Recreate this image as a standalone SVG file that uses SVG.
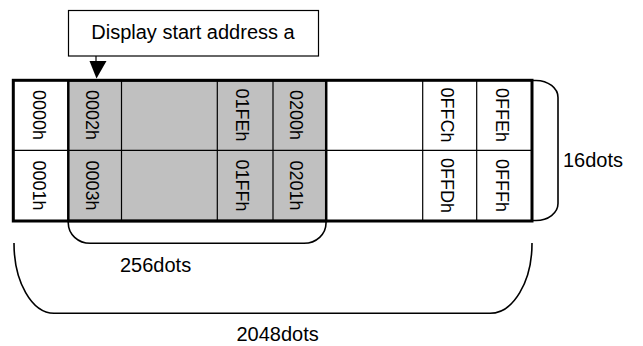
<svg xmlns="http://www.w3.org/2000/svg" width="643" height="346" viewBox="0 0 643 346">
<style>
text{font-family:"Liberation Sans",Arial,sans-serif;fill:#000}
.lbl{font-size:20px}
.cell{font-size:18px;text-anchor:middle}
.thin{stroke:#000;stroke-width:1.2;fill:none}
.brace{stroke:#000;stroke-width:1.6;fill:none}
</style>
<rect width="643" height="346" fill="#fff"/>
<g id="start-label">
<rect x="68.5" y="10.5" width="250" height="45.5" fill="#fff" stroke="#000" stroke-width="1.2"/>
<text class="lbl" x="193" y="39.3" text-anchor="middle">Display start address a</text>
</g>
<g id="memory-table">
<rect x="13.3" y="80.3" width="518.7" height="140.7" fill="#fff"/>
<rect x="68.3" y="80.3" width="257.9" height="140.7" fill="#c0c0c0"/>
<line class="thin" x1="13" y1="150.3" x2="532" y2="150.3"/>
<line class="thin" x1="121.5" y1="80" x2="121.5" y2="221"/>
<line class="thin" x1="217.3" y1="80" x2="217.3" y2="221"/>
<line class="thin" x1="273" y1="80" x2="273" y2="221"/>
<line class="thin" x1="422.7" y1="80" x2="422.7" y2="221"/>
<line class="thin" x1="476.7" y1="80" x2="476.7" y2="221"/>
<rect x="68.3" y="80.3" width="257.9" height="140.7" fill="none" stroke="#000" stroke-width="2.5"/>
<rect x="13.3" y="80.3" width="518.7" height="140.7" fill="none" stroke="#000" stroke-width="3"/>
</g>
<g id="cells">
<text class="cell" transform="translate(32.5,115) rotate(90)">0000h</text>
<text class="cell" transform="translate(32.5,185.5) rotate(90)">0001h</text>
<text class="cell" transform="translate(86,115) rotate(90)">0002h</text>
<text class="cell" transform="translate(86,185.5) rotate(90)">0003h</text>
<text class="cell" transform="translate(236,115) rotate(90)">01FEh</text>
<text class="cell" transform="translate(236,185.5) rotate(90)">01FFh</text>
<text class="cell" transform="translate(290,115) rotate(90)">0200h</text>
<text class="cell" transform="translate(290,185.5) rotate(90)">0201h</text>
<text class="cell" transform="translate(441,115) rotate(90)">0FFCh</text>
<text class="cell" transform="translate(441,185.5) rotate(90)">0FFDh</text>
<text class="cell" transform="translate(495.5,115) rotate(90)">0FFEh</text>
<text class="cell" transform="translate(495.5,185.5) rotate(90)">0FFFh</text>
</g>
<g id="connectors">
<line x1="96" y1="56" x2="96" y2="62" stroke="#000" stroke-width="1.2"/>
<polygon points="89.5,61 106.5,61 96.5,78.5" fill="#000"/>
<path class="brace" d="M68.3,221 V223 A22,20 0 0 0 90.3,243.3 H304 A22,20 0 0 0 326,223 V221"/>
<path class="brace" d="M14,243 A40,70 0 0 0 54,313.3 H490 A42,70 0 0 0 532,243"/>
<path class="brace" d="M532,80.5 H536 A22,17 0 0 1 558,97.5 V203.5 A22,17 0 0 1 536,220.5 H532"/>
</g>
<g id="dimension-labels">
<text class="lbl" x="563" y="167">16dots</text>
<text class="lbl" x="120" y="272.3">256dots</text>
<text class="lbl" x="236.5" y="340.5">2048dots</text>
</g>
</svg>
